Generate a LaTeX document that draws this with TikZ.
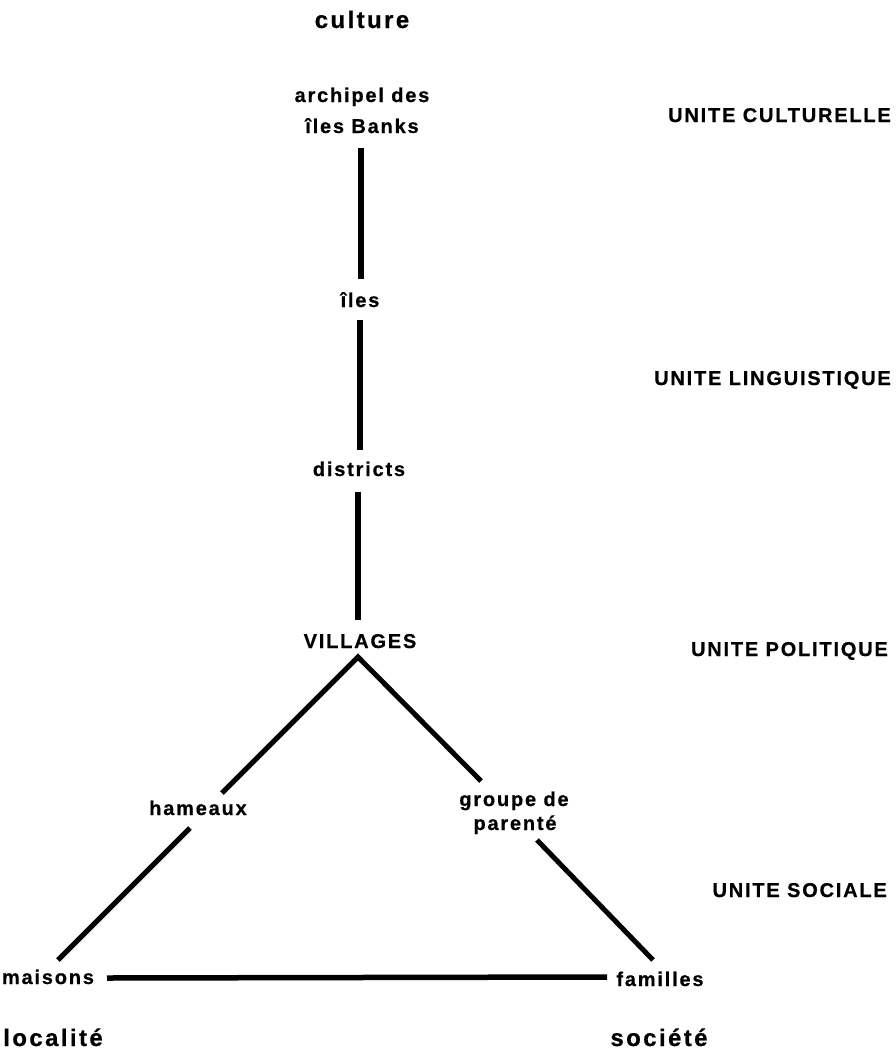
\documentclass[tikz,border=0pt]{standalone}
\usepackage{fontspec}
\setmainfont{Liberation Sans}
\newfontfamily\labfont{Liberation Sans}[LetterSpace=9, FakeBold=0.6]
\newfontfamily\bigfont{Liberation Sans}[LetterSpace=10, FakeBold=0.6]
\begin{document}
\begin{tikzpicture}[x=1pt,y=-1pt,
  lab/.style={inner sep=0pt, anchor=base, font=\labfont\bfseries\fontsize{20}{22}\selectfont},
  big/.style={inner sep=0pt, anchor=base, font=\bigfont\bfseries\fontsize{24}{26}\selectfont},
  unit/.style={lab, anchor=base east},
  link/.style={line width=5.5pt},
  slant/.style={line width=5pt}]
\path[use as bounding box] (0,0) rectangle (896,1055);

% poles
\node[big] (culture) at (362,28) {culture};
\node[big] (localite) at (53,1046) {localité};
\node[big] (societe) at (659,1046) {société};

% vertical chain
\node[lab] (archipel) at (362,102) {archipel des};
\node[lab] (banks) at (362,133) {îles Banks};
\node[lab] (iles) at (360,307) {îles};
\node[lab] (districts) at (359,476) {districts};
\node[lab] (villages) at (360,648) {VILLAGES};

% triangle corners
\node[lab] (hameaux) at (198,815) {hameaux};
\node[lab] (groupe) at (514,806) {groupe de};
\node[lab] (parente) at (515,830) {parenté};
\node[lab] (maisons) at (48,984) {maisons};
\node[lab] (familles) at (660,986) {familles};

% levels
\node[unit] (ucult) at (891,122) {UNITE CULTURELLE};
\node[unit] (uling) at (891,385) {UNITE LINGUISTIQUE};
\node[unit] (upol) at (888,656) {UNITE POLITIQUE};
\node[unit] (usoc) at (887,897) {UNITE SOCIALE};

% connectors
\draw[link] ([shift={(-1,15)}]banks.base) -- ([shift={(1,-28)}]iles.base);
\draw[link] ([shift={(0,13)}]iles.base) -- ([shift={(1,-26)}]districts.base);
\draw[link] ([shift={(-1,16)}]districts.base) -- ([shift={(-2,-28)}]villages.base);

\coordinate (apex) at ([shift={(-2,9)}]villages.base);
\draw[slant] ([shift={(24,-22)}]hameaux.base) -- (apex) -- ([shift={(-33,-25)}]groupe.base);
\draw[slant] ([shift={(-8,13)}]hameaux.base) -- ([shift={(10,-24)}]maisons.base);
\draw[slant] ([shift={(22,10)}]parente.base) -- ([shift={(-7,-26)}]familles.base);
\draw[link] ([shift={(59,-6)}]maisons.base) -- ([shift={(-53,-9)}]familles.base);
\end{tikzpicture}
\end{document}
